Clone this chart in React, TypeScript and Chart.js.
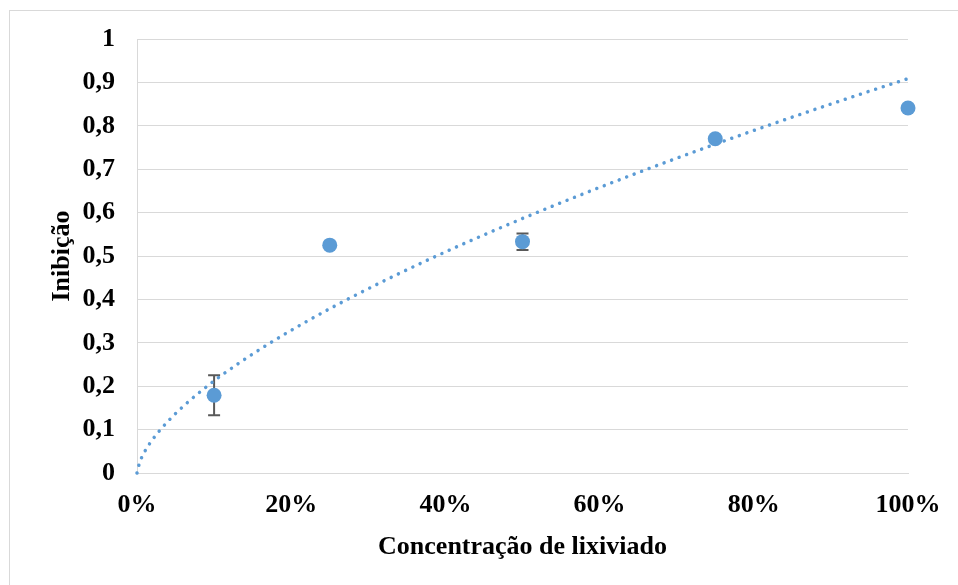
import React, { useEffect, useRef } from 'react';
import { Chart, registerables } from 'chart.js';

Chart.register(...registerables);

// ---- data ----
const concentrations = [0.1, 0.25, 0.5, 0.75, 1.0];
const inhibition = [0.179, 0.525, 0.533, 0.77, 0.841];
const inhibitionError = [0.046, 0.004, 0.019, 0.004, 0.004];
const xTickStep = 0.2;
const yTickStep = 0.1;
const xTitle = 'Concentração de lixiviado';
const yTitle = 'Inibição';

// Power trendline (y = a·x^b) fitted to the data by least squares in log space, like Excel
function powerFit(xs: number[], ys: number[]) {
  const lx = xs.map(Math.log);
  const ly = ys.map(Math.log);
  const n = xs.length;
  const mx = lx.reduce((s, v) => s + v, 0) / n;
  const my = ly.reduce((s, v) => s + v, 0) / n;
  let sxy = 0;
  let sxx = 0;
  for (let i = 0; i < n; i++) {
    sxy += (lx[i] - mx) * (ly[i] - my);
    sxx += (lx[i] - mx) * (lx[i] - mx);
  }
  const b = sxy / sxx;
  const a = Math.exp(my - b * mx);
  return { a, b };
}

const BLUE = '#5b9bd5';
const GRID = '#d9d9d9';
const FONT_FAMILY = "'Liberation Serif', 'Times New Roman', serif";

const fmtY = (v: number) => {
  const r = Math.round(v * 10) / 10;
  if (r === 0) return '0';
  if (r === 1) return '1';
  return r.toFixed(1).replace('.', ',');
};

export default function App() {
  const ref = useRef<HTMLCanvasElement | null>(null);

  useEffect(() => {
    document.body.style.margin = '0';
    const canvas = ref.current;
    if (!canvas) return;

    const { a, b } = powerFit(concentrations, inhibition);
    const trend: { x: number; y: number }[] = [];
    const steps = 300;
    for (let i = 0; i <= steps; i++) {
      const x = i / steps;
      trend.push({ x, y: x === 0 ? 0 : a * Math.pow(x, b) });
    }

    const frame = {
      id: 'frame',
      beforeDraw(chart: any) {
        const ctx = chart.ctx;
        ctx.save();
        ctx.fillStyle = '#ffffff';
        ctx.fillRect(0, 0, chart.width, chart.height);
        ctx.strokeStyle = GRID;
        ctx.lineWidth = 1;
        ctx.strokeRect(9.5, 10.5, 2000, 2000);
        ctx.restore();
      },
    };

    const errorBars = {
      id: 'errorBars',
      beforeDatasetsDraw(chart: any) {
        const ctx = chart.ctx;
        const xs = chart.scales.x;
        const ys = chart.scales.y;
        ctx.save();
        ctx.strokeStyle = '#595959';
        ctx.lineWidth = 2;
        concentrations.forEach((c, i) => {
          const px = xs.getPixelForValue(c);
          const top = ys.getPixelForValue(inhibition[i] + inhibitionError[i]);
          const bot = ys.getPixelForValue(inhibition[i] - inhibitionError[i]);
          ctx.beginPath();
          ctx.moveTo(px, top);
          ctx.lineTo(px, bot);
          ctx.moveTo(px - 6, top);
          ctx.lineTo(px + 6, top);
          ctx.moveTo(px - 6, bot);
          ctx.lineTo(px + 6, bot);
          ctx.stroke();
        });
        ctx.restore();
      },
    };

    const font = { family: FONT_FAMILY, size: 26, weight: 'bold' as const };

    const chart = new Chart(canvas, {
      type: 'scatter',
      data: {
        datasets: [
          {
            label: 'Tendência',
            data: trend,
            showLine: true,
            borderColor: BLUE,
            borderWidth: 3.5,
            borderDash: [0.001, 8],
            borderCapStyle: 'round',
            pointRadius: 0,
            fill: false,
            tension: 0,
            clip: false,
          } as any,
          {
            label: 'Inibição',
            data: concentrations.map((c, i) => ({ x: c, y: inhibition[i] })),
            backgroundColor: BLUE,
            borderColor: BLUE,
            borderWidth: 0,
            pointRadius: 7.5,
            showLine: false,
            clip: false,
          } as any,
        ],
      },
      options: {
        animation: false,
        responsive: false,
        devicePixelRatio: 1,
        layout: { padding: { top: 39, right: 50, left: 0, bottom: 0 } },
        plugins: {
          legend: { display: false },
          tooltip: { enabled: false },
        },
        scales: {
          x: {
            type: 'linear',
            min: 0,
            max: 1,
            afterFit: (s: any) => {
              s.height = 112;
            },
            ticks: {
              stepSize: xTickStep,
              callback: (v: any) => Math.round(Number(v) * 100) + '%',
              font,
              color: '#000000',
              padding: 17,
              maxRotation: 0,
            },
            grid: { display: false, drawTicks: false },
            border: { display: true, color: GRID, width: 1 },
            title: {
              display: true,
              text: xTitle,
              font,
              color: '#000000',
              padding: { top: 0, bottom: 22 },
            },
          },
          y: {
            type: 'linear',
            min: 0,
            max: 1,
            afterFit: (s: any) => {
              s.width = 137;
            },
            ticks: {
              stepSize: yTickStep,
              callback: (v: any) => fmtY(Number(v)),
              font,
              color: '#000000',
              padding: 22,
            },
            grid: { color: GRID, lineWidth: 1, drawTicks: false },
            border: { display: true, color: GRID, width: 1 },
            title: {
              display: true,
              text: yTitle,
              font,
              color: '#000000',
              padding: { top: 47, bottom: 0 },
            },
          },
        },
      },
      plugins: [frame, errorBars],
    });

    return () => chart.destroy();
  }, []);

  return (
    <div style={{ width: 958, height: 585 }}>
      <canvas ref={ref} width={958} height={585} style={{ display: 'block' }} />
    </div>
  );
}
